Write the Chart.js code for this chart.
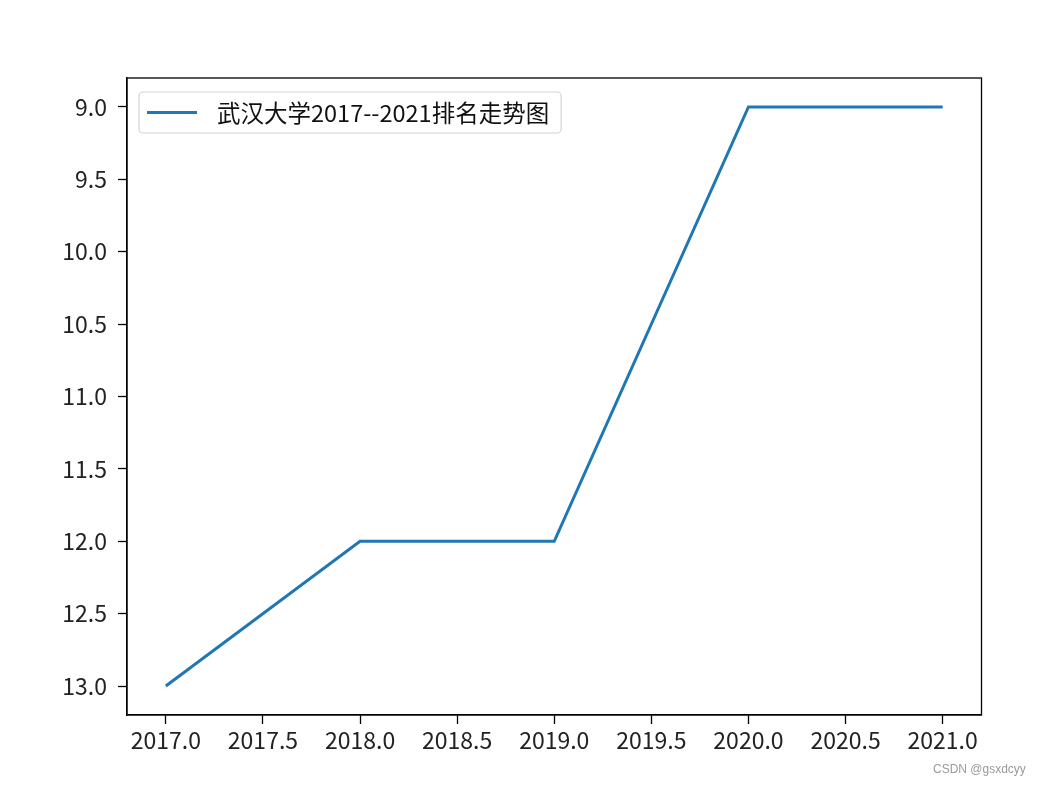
<!DOCTYPE html>
<html>
<head>
<meta charset="utf-8">
<script src="https://cdn.jsdelivr.net/npm/chart.js@4.4.0/dist/chart.umd.min.js"></script>
<style>
  body { margin: 0; background: #ffffff; }
  #wrap { position: relative; width: 1040px; height: 787px; }
  #wm { position: absolute; left: 933px; top: 762px; font: 12px 'Liberation Sans', Arial, sans-serif; color: #9a9a9a; }
</style>
</head>
<body>
<div id="wrap">
  <canvas id="rankChart" width="1040" height="787"></canvas>
  <div id="wm">CSDN @gsxdcyy</div>
</div>
<script>
// Daten
const years = [2017, 2018, 2019, 2020, 2021];
const ranks = [13, 12, 12, 9, 9];
const xTicks = [2017.0, 2017.5, 2018.0, 2018.5, 2019.0, 2019.5, 2020.0, 2020.5, 2021.0];
const yTicks = [9.0, 9.5, 10.0, 10.5, 11.0, 11.5, 12.0, 12.5, 13.0];
const seriesName = '武汉大学2017--2021排名走势图';

const lineColor = '#1f77b4';
const tickFont = { family: "'Noto Sans CJK SC', sans-serif", size: 23 };

// Legende im Plotbereich (wie matplotlib)
const boxLegend = {
  id: 'boxLegend',
  afterDatasetsDraw(chart) {
    const ctx = chart.ctx;
    const ca = chart.chartArea;
    const ds = chart.data.datasets[0];
    ctx.save();
    ctx.font = "23.5px 'Noto Sans CJK SC', sans-serif";
    const textW = ctx.measureText(ds.label).width;
    const x = ca.left + 12, y = ca.top + 14, h = 41;
    const w = 8 + 50 + 20 + textW + 12;
    ctx.beginPath();
    ctx.roundRect(x, y, w, h, 4);
    ctx.fillStyle = 'rgba(255,255,255,0.8)';
    ctx.fill();
    ctx.strokeStyle = '#d4d4d4';
    ctx.lineWidth = 1.2;
    ctx.stroke();
    // Linienmuster
    ctx.beginPath();
    ctx.moveTo(x + 8, y + h / 2);
    ctx.lineTo(x + 58, y + h / 2);
    ctx.strokeStyle = ds.borderColor;
    ctx.lineWidth = 3;
    ctx.stroke();
    // Text
    ctx.fillStyle = '#111';
    ctx.textBaseline = 'middle';
    ctx.fillText(ds.label, x + 78, y + h / 2 + 1);
    ctx.restore();
  }
};

// Rahmen oben und rechts
const frame = {
  id: 'frame',
  afterDraw(chart) {
    const ctx = chart.ctx;
    const ca = chart.chartArea;
    ctx.save();
    ctx.strokeStyle = '#000';
    ctx.lineWidth = 1.3;
    ctx.strokeRect(ca.left, ca.top, ca.right - ca.left, ca.bottom - ca.top);
    ctx.restore();
  }
};

const ctx = document.getElementById('rankChart').getContext('2d');
const rankChart = new Chart(ctx, {
  type: 'line',
  data: {
    datasets: [{
      label: seriesName,
      data: years.map((x, i) => ({ x: x, y: ranks[i] })),
      borderColor: lineColor,
      backgroundColor: lineColor,
      borderWidth: 3,
      pointRadius: 0,
      tension: 0,
      fill: false,
    }]
  },
  options: {
    responsive: false,
    animation: false,
    layout: { padding: { top: 78, right: 58.5, left: 0, bottom: 0 } },
    plugins: {
      legend: { display: false },
      tooltip: { enabled: false },
    },
    scales: {
      x: {
        type: 'linear',
        min: 2016.8,
        max: 2021.2,
        afterBuildTicks(scale) { scale.ticks = xTicks.map(v => ({ value: v })); },
        afterFit(scale) { scale.height = 72; },
        ticks: {
          font: tickFont,
          color: '#222',
          padding: 2,
          maxRotation: 0,
          autoSkip: false,
          callback: v => v.toFixed(1),
        },
        grid: { drawOnChartArea: false, drawTicks: true, tickLength: 9, tickColor: '#000', tickWidth: 1.3 },
        border: { display: true, color: '#000', width: 1.3 },
      },
      y: {
        type: 'linear',
        reverse: true,
        min: 8.8,
        max: 13.2,
        afterBuildTicks(scale) { scale.ticks = yTicks.map(v => ({ value: v })); },
        afterFit(scale) { scale.width = 127; },
        ticks: {
          font: tickFont,
          color: '#222',
          padding: 11,
          autoSkip: false,
          callback: v => v.toFixed(1),
        },
        grid: { drawOnChartArea: false, drawTicks: true, tickLength: 9, tickColor: '#000', tickWidth: 1.3 },
        border: { display: true, color: '#000', width: 1.3 },
      },
    },
  },
  plugins: [boxLegend, frame],
});
</script>
</body>
</html>
